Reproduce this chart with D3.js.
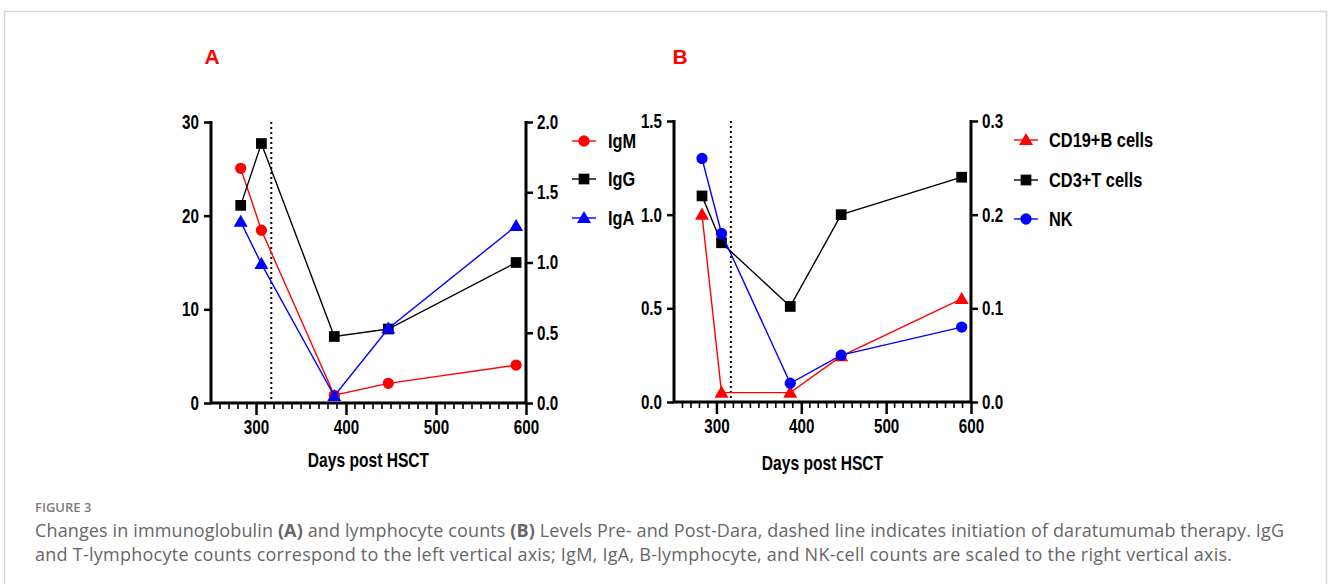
<!DOCTYPE html>
<html>
<head>
<meta charset="utf-8">
<script src="https://cdn.jsdelivr.net/npm/d3@7"></script>
<style>
  body { margin: 0; background: #fff; }
  svg { display: block; }
  .chart text { font-family: 'Liberation Sans', Arial, sans-serif; font-weight: bold; fill: #000; }
  .caption { font-family: 'Open Sans', 'Noto Sans', sans-serif; fill: #666; }
</style>
</head>
<body>
<svg id="fig" width="1328" height="584"></svg>
<script>
// ── Data ───────────────────────────────────────────────
const days = [283, 306, 387, 447, 589];
const daraStart = 317;

// Panel A — immunoglobulins
const igG = [21.1, 27.7, 7.1, 7.9, 15.0];     // left axis
const igM = [1.67, 1.23, 0.055, 0.14, 0.27];  // right axis
const igA = [1.29, 0.99, 0.05, 0.53, 1.26];   // right axis

// Panel B — lymphocytes
const cd3T = [1.1, 0.85, 0.51, 1.0, 1.2];      // left axis
const cd19B = [0.2, 0.01, 0.01, 0.049, 0.11];  // right axis
const nk = [0.26, 0.18, 0.02, 0.05, 0.08];     // right axis

const xTicks = [300, 400, 500, 600];
const leftTicksA = [0, 10, 20, 30];
const rightTicksA = [0, 0.5, 1.0, 1.5, 2.0];
const leftTicksB = [0, 0.5, 1.0, 1.5];
const rightTicksB = [0, 0.1, 0.2, 0.3];

const svg = d3.select('#fig');

// frame
svg.append('rect')
    .attr('x', 4.5).attr('y', 11.5)
    .attr('width', 1322).attr('height', 600)
    .attr('fill', 'none')
    .attr('stroke', '#d4d4d4')
    .attr('stroke-width', 1.5);

const symbols = {
    square: d3.symbol().type(d3.symbolSquare).size(115),
    circle: d3.symbol().type(d3.symbolCircle).size(100),
    triangle: d3.symbol().type(d3.symbolTriangle).size(85)
};

// squeeze text horizontally to mimic a narrow bold face
function narrow(sel, k) {
    sel.each(function () {
        const t = d3.select(this);
        const x = +t.attr('x') || 0;
        t.attr('x', x / k).attr('transform', `scale(${k},1)`);
    });
}

function drawPanel(cfg) {
    const g = svg.append('g').attr('class', 'chart');
    const x = d3.scaleLinear().domain([250, 600]).range([cfg.x0, cfg.x1]);
    const yL = d3.scaleLinear().domain(cfg.leftDomain).range([cfg.yBottom, cfg.yTop]);
    const yR = d3.scaleLinear().domain(cfg.rightDomain).range([cfg.yBottom, cfg.yTop]);

    // panel letter
    g.append('text')
        .attr('x', cfg.letterX).attr('y', 64)
        .attr('text-anchor', 'middle')
        .style('font-size', '21px')
        .style('fill', '#ff0000')
        .text(cfg.letter);

    // x minor ticks
    const minor = d3.range(260, 600, 10).filter(v => v % 100 !== 0);
    g.append('g')
        .selectAll('line')
        .data(minor)
        .join('line')
        .attr('x1', d => x(d)).attr('x2', d => x(d))
        .attr('y1', cfg.yBottom).attr('y2', cfg.yBottom + 6)
        .attr('stroke', '#000').attr('stroke-width', 1.6);

    // x axis
    const xAxis = g.append('g')
        .attr('transform', `translate(0,${cfg.yBottom})`)
        .call(d3.axisBottom(x).tickValues(xTicks).tickSize(12).tickPadding(5).tickFormat(d3.format('d')));
    xAxis.select('.domain').attr('stroke-width', 3).attr('d', `M${cfg.x0 - 1},0H${cfg.x1 + 1}`);
    xAxis.selectAll('.tick line').attr('stroke-width', 2.5);
    xAxis.selectAll('text').style('font-size', '20px').call(narrow, 0.76);

    // left axis
    const lAxis = g.append('g')
        .attr('transform', `translate(${cfg.x0},0)`)
        .call(d3.axisLeft(yL).tickValues(cfg.leftTicks).tickSize(7).tickPadding(5).tickFormat(cfg.leftFmt));
    lAxis.select('.domain').attr('stroke-width', 3).attr('d', `M0,${cfg.yTop - 1}V${cfg.yBottom + 1}`);
    lAxis.selectAll('.tick line').attr('stroke-width', 2.5);
    lAxis.selectAll('text').style('font-size', '20px').call(narrow, 0.76);

    // right axis
    const rAxis = g.append('g')
        .attr('transform', `translate(${cfg.x1},0)`)
        .call(d3.axisRight(yR).tickValues(cfg.rightTicks).tickSize(7).tickPadding(4).tickFormat(d3.format('.1f')));
    rAxis.select('.domain').attr('stroke-width', 3).attr('d', `M0,${cfg.yTop - 1}V${cfg.yBottom + 1}`);
    rAxis.selectAll('.tick line').attr('stroke-width', 2.5);
    rAxis.selectAll('text').style('font-size', '20px').call(narrow, 0.76);

    // axis title
    g.append('text')
        .attr('x', (cfg.x0 + cfg.x1) / 2).attr('y', cfg.titleY)
        .attr('text-anchor', 'middle')
        .style('font-size', '20px')
        .text('Days post HSCT')
        .call(narrow, 0.78);

    // dara start (dotted)
    g.append('line')
        .attr('x1', x(daraStart)).attr('x2', x(daraStart))
        .attr('y1', cfg.yTop).attr('y2', cfg.yBottom)
        .attr('stroke', '#000').attr('stroke-width', 2)
        .attr('stroke-dasharray', '2,3');

    // series
    cfg.series.forEach(s => {
        const y = s.axis === 'left' ? yL : yR;
        const pts = days.map((d, i) => [x(d), y(s.values[i])]);
        g.append('path')
            .attr('d', d3.line()(pts))
            .attr('fill', 'none')
            .attr('stroke', s.color)
            .attr('stroke-width', 1.4);
        g.append('g')
            .selectAll('path')
            .data(pts)
            .join('path')
            .attr('transform', p => `translate(${p[0]},${p[1] + (s.shape === 'triangle' ? 1 : 0)})`)
            .attr('d', symbols[s.shape]())
            .attr('fill', s.color);
    });

    // legend
    const lg = g.append('g');
    cfg.series.forEach((s, i) => {
        const ly = cfg.legendY[i];
        lg.append('line')
            .attr('x1', cfg.legendX).attr('x2', cfg.legendX + 24)
            .attr('y1', ly).attr('y2', ly)
            .attr('stroke', s.color).attr('stroke-width', 1.4);
        lg.append('path')
            .attr('transform', `translate(${cfg.legendX + 12},${ly + (s.shape === 'triangle' ? 1 : 0)})`)
            .attr('d', symbols[s.shape]())
            .attr('fill', s.color);
        lg.append('text')
            .attr('x', cfg.legendX + cfg.legendGap).attr('y', ly + 7.5)
            .style('font-size', '21px')
            .text(s.name)
            .call(narrow, 0.78);
    });
}

drawPanel({
    letter: 'A', letterX: 212,
    x0: 211, x1: 526, yTop: 122, yBottom: 403, titleY: 467,
    leftDomain: [0, 30], rightDomain: [0, 2],
    leftTicks: leftTicksA, rightTicks: rightTicksA, leftFmt: d3.format('d'),
    legendX: 572, legendGap: 36, legendY: [141, 179, 218],
    series: [
        { name: 'IgM', values: igM, axis: 'right', color: '#ff0000', shape: 'circle' },
        { name: 'IgG', values: igG, axis: 'left', color: '#000000', shape: 'square' },
        { name: 'IgA', values: igA, axis: 'right', color: '#0000ff', shape: 'triangle' }
    ]
});

drawPanel({
    letter: 'B', letterX: 680,
    x0: 674, x1: 971, yTop: 121, yBottom: 402, titleY: 470,
    leftDomain: [0, 1.5], rightDomain: [0, 0.3],
    leftTicks: leftTicksB, rightTicks: rightTicksB, leftFmt: d3.format('.1f'),
    legendX: 1014, legendGap: 35, legendY: [140, 180, 219],
    series: [
        { name: 'CD19+B cells', values: cd19B, axis: 'right', color: '#ff0000', shape: 'triangle' },
        { name: 'CD3+T cells', values: cd3T, axis: 'left', color: '#000000', shape: 'square' },
        { name: 'NK', values: nk, axis: 'right', color: '#0000ff', shape: 'circle' }
    ]
});

// caption
const cap = svg.append('g').attr('class', 'caption');
cap.append('text')
    .attr('x', 35).attr('y', 512)
    .style('font-size', '13px')
    .style('font-weight', '600')
    .style('fill', '#7a7a7a')
    .text('FIGURE 3');

const line1 = cap.append('text')
    .attr('x', 35).attr('y', 537)
    .attr('textLength', 1249).attr('lengthAdjust', 'spacing')
    .style('font-size', '18px');
line1.append('tspan').text('Changes in immunoglobulin ');
line1.append('tspan').style('font-weight', 'bold').text('(A)');
line1.append('tspan').text(' and lymphocyte counts ');
line1.append('tspan').style('font-weight', 'bold').text('(B)');
line1.append('tspan').text(' Levels Pre- and Post-Dara, dashed line indicates initiation of daratumumab therapy. IgG');

cap.append('text')
    .attr('x', 35).attr('y', 561)
    .attr('textLength', 1197).attr('lengthAdjust', 'spacing')
    .style('font-size', '18px')
    .text('and T-lymphocyte counts correspond to the left vertical axis; IgM, IgA, B-lymphocyte, and NK-cell counts are scaled to the right vertical axis.');
</script>
</body>
</html>
